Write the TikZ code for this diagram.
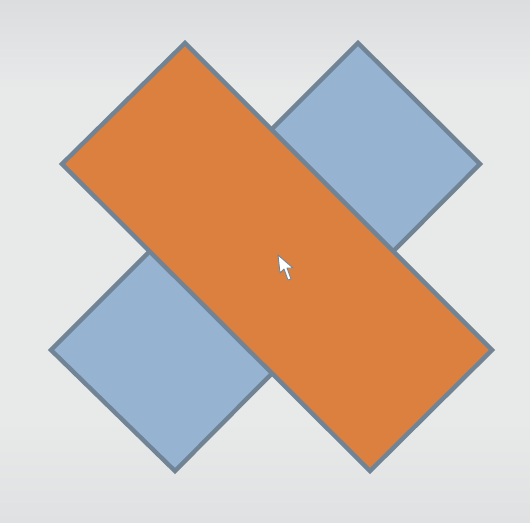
\documentclass[tikz,border=0pt]{standalone}
\usepackage{tikz}

\definecolor{bgtop}{RGB}{220,221,223}
\definecolor{bgmid}{RGB}{232,233,233}
\definecolor{bgbot}{RGB}{224,225,226}
\definecolor{edgegray}{RGB}{112,132,150}
\definecolor{barorange}{RGB}{220,128,64}
\definecolor{barblue}{RGB}{150,180,210}

\begin{document}
\begin{tikzpicture}[
    x=0.02cm, y=-0.02cm,
    bar/.style={draw=edgegray, line width=2.5pt, line join=miter},
    ptr/.style={fill=white, draw=edgegray, line width=0.5pt, line join=round},
  ]
  % background
  \fill[bgmid] (0,0) rectangle (530,522);
  \shade[top color=bgtop, bottom color=bgmid] (0,0) rectangle (530,90);
  \shade[top color=bgmid, bottom color=bgbot] (0,420) rectangle (530,522);
  \useasboundingbox (0,0) rectangle (530,522);
  % corners
  \coordinate (bT) at (358,43);
  \coordinate (bR) at (480,164);
  \coordinate (bB) at (175,471);
  \coordinate (bL) at (51,350);
  \coordinate (oT) at (185,43);
  \coordinate (oL) at (62,164);
  \coordinate (oB) at (370,471);
  \coordinate (oR) at (492,350);
  % blue bar behind, orange bar on top
  \draw[bar, fill=barblue] (bT) -- (bR) -- (bB) -- (bL) -- cycle;
  \draw[bar, fill=barorange] (oT) -- (oL) -- (oB) -- (oR) -- cycle;
  % pointer
  \draw[ptr] (278,255) -- (280,273) -- (284,269) -- (288,280)
    -- (291,279) -- (287,268) -- (293,268) -- cycle;
\end{tikzpicture}
\end{document}
